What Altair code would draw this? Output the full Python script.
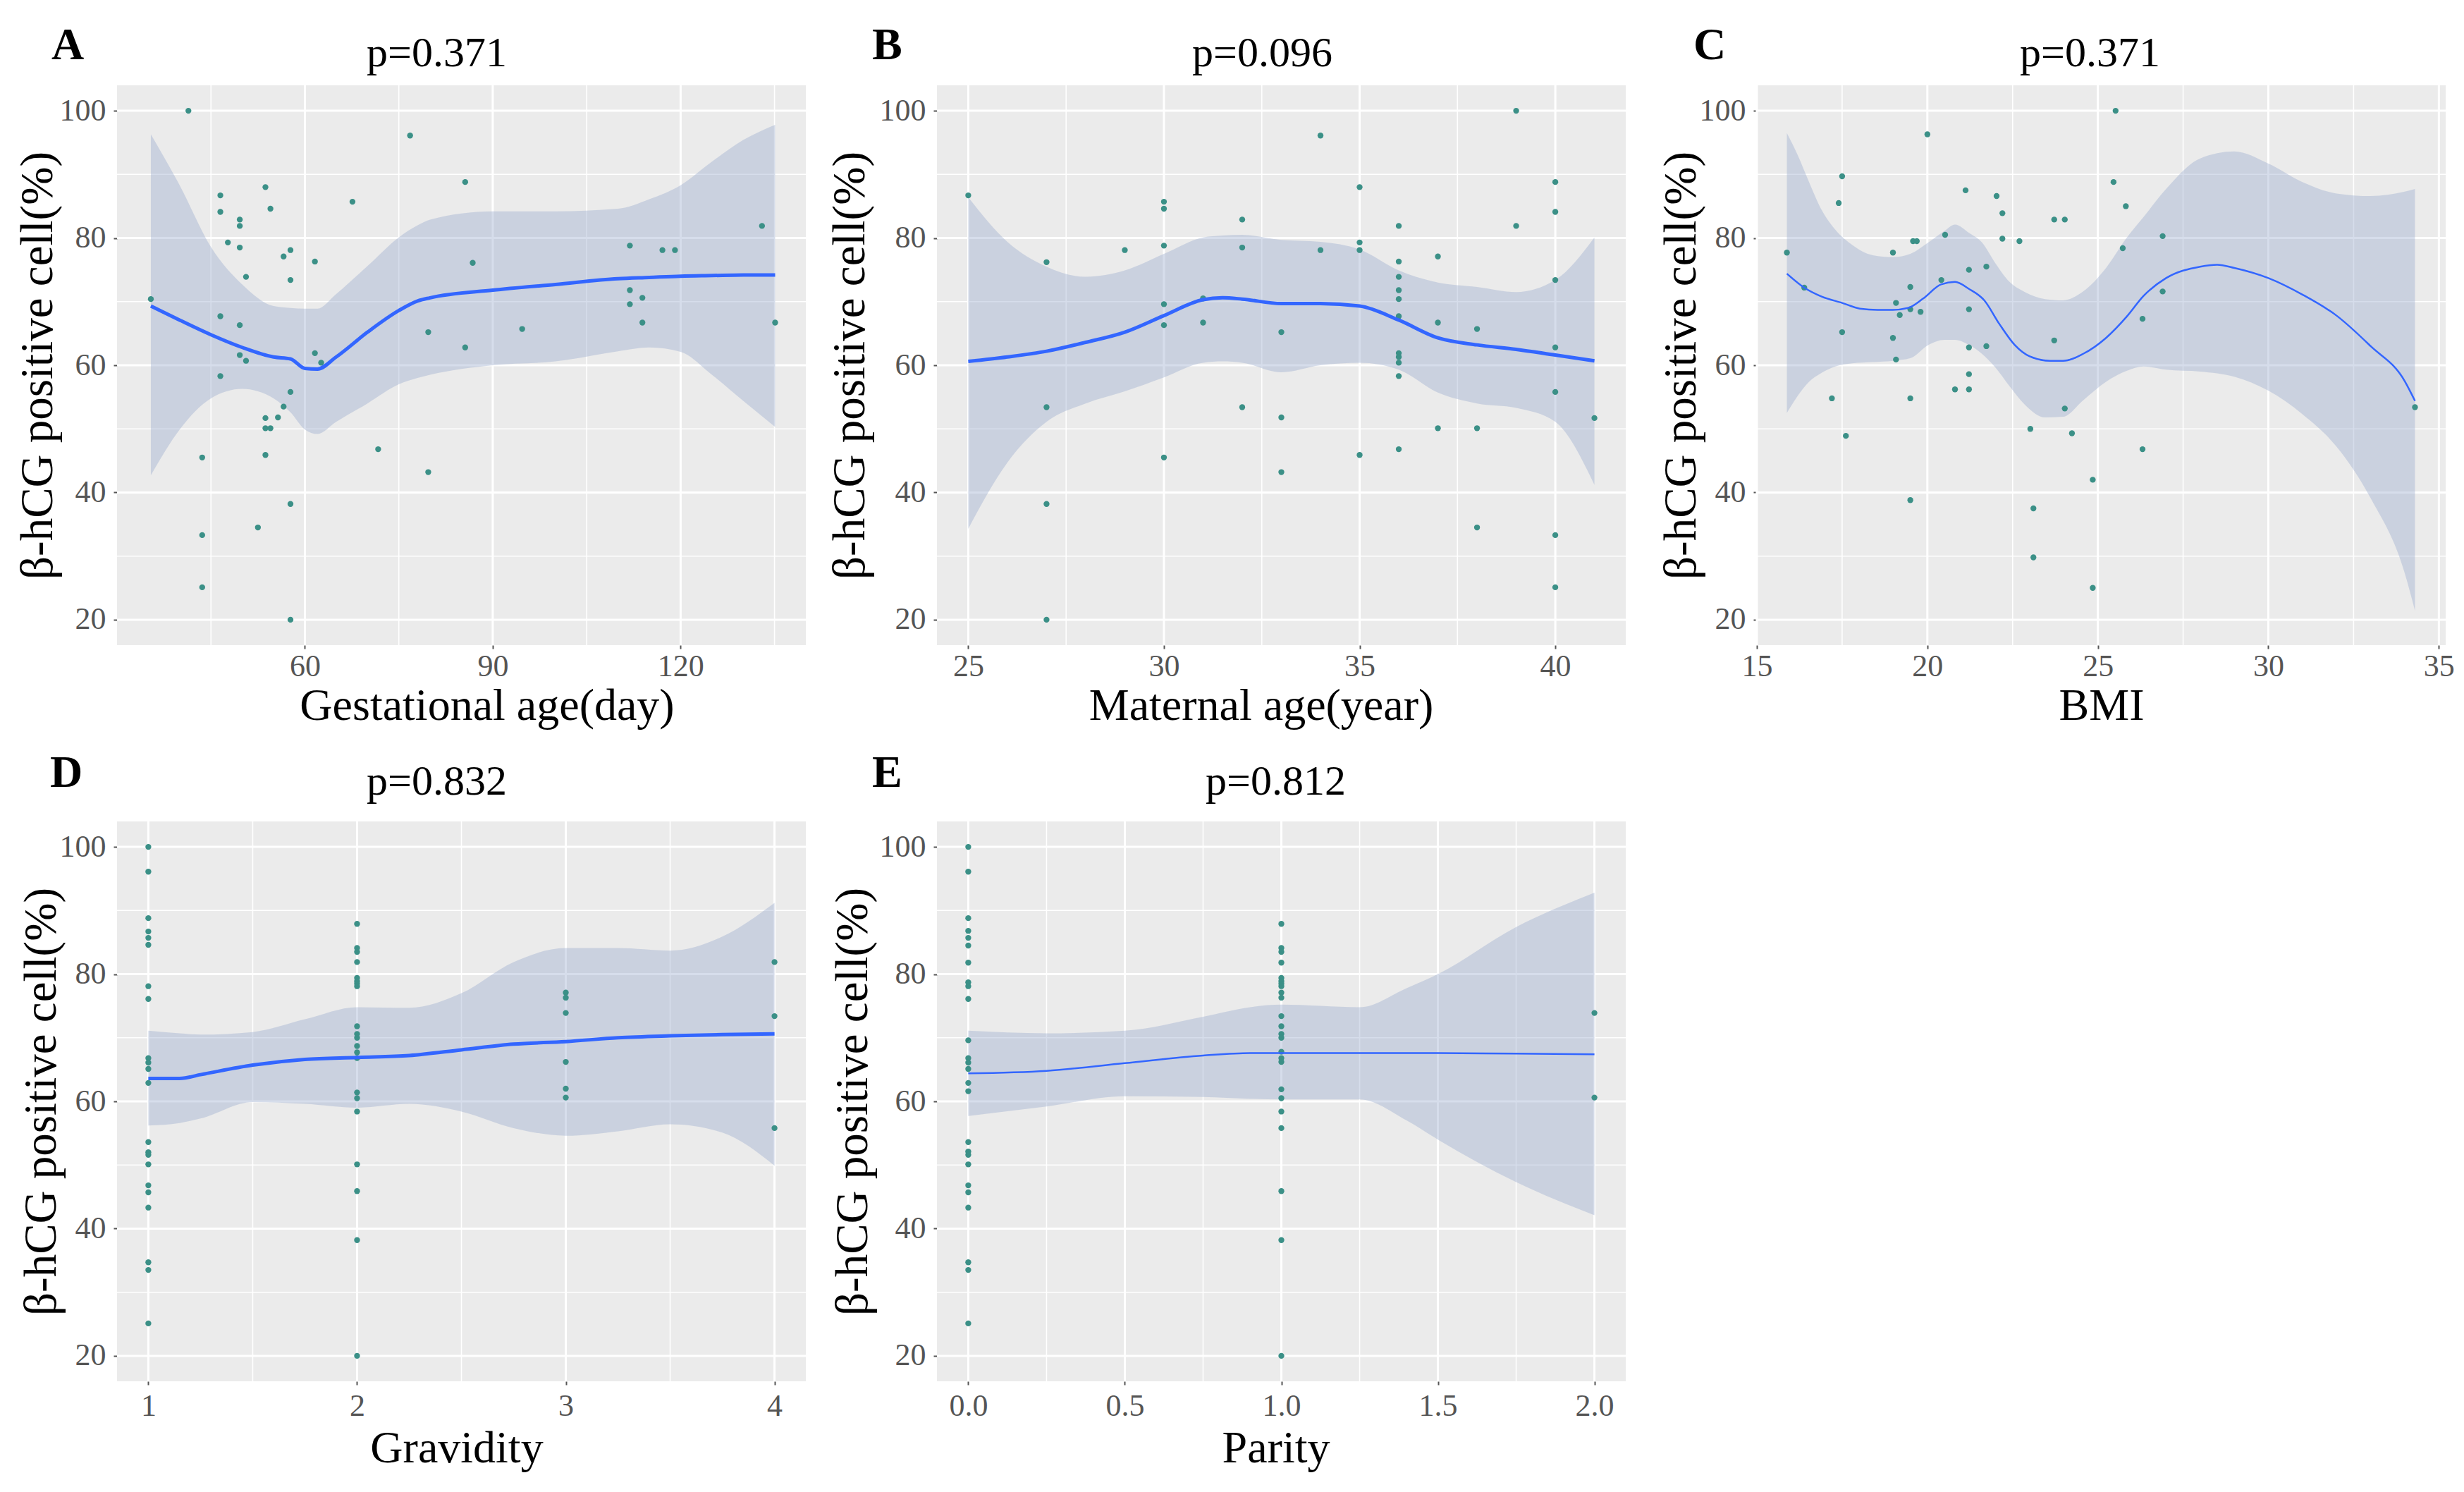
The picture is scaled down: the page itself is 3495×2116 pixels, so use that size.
import altair as alt
import pandas as pd

FONT = "Liberation Serif"
W = 977
H = 794

Y_DOMAIN = [16, 104]
Y_MAJOR = [20, 40, 60, 80, 100]
Y_MINOR = [30, 50, 70, 90]
Y_TITLE = "β-hCG positive cell(%)"

# ---------------- A: gestational age ----------------
ga_x = [35.4, 41.4, 43.6, 43.6, 43.6, 46.5, 46.5, 46.5, 46.5, 47.7, 49.6, 49.6, 49.6, 49.6, 49.6,
        50.6, 50.6, 52.5, 53.7, 53.7, 53.7, 54.5, 53.7, 54.5, 55.7, 56.6, 56.6, 57.7, 57.7, 57.7,
        57.7, 57.7, 61.6, 61.6, 62.6, 67.6, 71.7, 76.8, 79.7, 79.7, 85.6, 85.6, 86.8, 94.7, 111.9,
        111.9, 111.9, 113.9, 113.9, 117.1, 119.1, 133.0, 135.1]
ga_y = [70.4, 100, 45.5, 33.3, 25.1, 86.7, 84.1, 67.7, 58.3, 79.3, 82.9, 81.9, 78.5, 66.3, 61.6,
        60.7, 73.9, 34.5, 88.0, 51.7, 50.1, 50.1, 45.9, 84.6, 51.8, 53.5, 77.1, 78.1, 73.4, 55.8,
        38.2, 20.0, 76.3, 61.9, 60.4, 85.7, 46.8, 96.1, 65.2, 43.2, 88.8, 62.8, 76.1, 65.7, 78.8,
        71.8, 69.6, 70.6, 66.7, 78.1, 78.1, 81.9, 66.7]
ga_sx = [35.4, 40, 45, 50, 55, 57.7, 60, 62, 65, 70, 75, 78, 80, 90, 100, 110, 115, 120, 125, 130, 135.1]
ga_fit = [69.3, 67.1, 64.8, 62.8, 61.3, 61.0, 59.5, 59.4, 61.3, 65.2, 68.6, 70.1, 70.6, 71.8, 72.7,
          73.6, 73.8, 74.0, 74.1, 74.2, 74.2]
ga_hi = [96.3, 88.3, 78.6, 72.7, 69.3, 69.0, 68.9, 68.9, 71.2, 75.6, 80.1, 82.0, 82.9, 84.2, 84.2,
         84.6, 86.1, 88.3, 92.0, 95.4, 97.8]
ga_lo = [42.7, 49.9, 54.8, 56.3, 54.8, 52.6, 49.9, 49.2, 51.1, 54.0, 57.0, 58.0, 58.5, 60.0, 60.6,
         62.2, 62.8, 62.1, 58.5, 54.4, 50.3]

# ---------------- B: maternal age ----------------
ma_x = [25, 27, 27, 27, 27, 29, 30, 30, 30, 30, 30, 30, 31, 31, 32, 32, 32, 33, 33, 33, 34, 34,
        35, 35, 35, 35, 36, 36, 36, 36, 36, 36, 36, 36, 36, 36, 36, 37, 37, 37, 38, 38, 38, 39, 39,
        40, 40, 40, 40, 40, 40, 40, 41]
ma_y = [86.7, 76.2, 53.4, 38.2, 20.0, 78.1, 85.7, 84.6, 78.8, 69.6, 66.3, 45.5, 70.5, 66.7, 82.9,
        78.5, 53.4, 65.2, 51.8, 43.2, 96.1, 78.1, 88.0, 79.3, 78.1, 45.9, 81.9, 76.3, 73.9, 71.8,
        70.4, 67.7, 61.9, 61.3, 60.4, 58.3, 46.8, 77.1, 66.7, 50.1, 65.7, 50.1, 34.5, 100, 81.9,
        88.8, 84.1, 73.4, 62.8, 55.8, 33.3, 25.1, 51.7]
ma_sx = [25, 26, 27, 28, 29, 30, 31, 31.5, 32, 33, 34, 35, 36, 37, 38, 39, 40, 41]
ma_fit = [60.6, 61.3, 62.2, 63.6, 65.2, 67.8, 70.3, 70.6, 70.4, 69.7, 69.7, 69.3, 67.1, 64.3, 63.2,
          62.5, 61.6, 60.7]
ma_hi = [86.4, 79.4, 75.5, 73.9, 74.9, 77.5, 80.1, 80.4, 80.5, 79.7, 79.4, 78.2, 74.9, 73.0, 72.3,
         71.5, 73.4, 80.1]
ma_lo = [34.3, 44.7, 51.1, 54.0, 55.9, 58.1, 60.4, 60.6, 60.4, 58.9, 60.0, 60.4, 59.3, 55.7, 54.0,
         53.3, 51.1, 41.2]

# ---------------- C: BMI ----------------
bmi_x = [15.88, 16.39, 17.40, 17.50, 17.50, 18.99, 18.99, 19.08, 19.08, 19.19, 19.50, 19.50, 19.58,
         19.69, 19.80, 20.00, 20.41, 20.52, 21.12, 21.22, 21.22, 21.22, 21.22, 21.73, 21.73, 22.03,
         22.20, 22.20, 22.70, 23.72, 23.72, 24.03, 25.46, 25.52, 25.82, 25.73, 26.31, 17.20, 19.50,
         20.81, 21.22, 24.03, 23.02, 24.24, 26.31, 24.85, 19.50, 23.11, 23.11, 24.85, 17.61, 26.90,
         26.90, 34.30]
bmi_y = [77.7, 72.2, 85.5, 89.7, 65.2, 77.7, 64.3, 69.8, 60.9, 67.9, 72.3, 68.8, 79.5, 79.5, 68.4,
         96.3, 73.4, 80.5, 87.5, 75.0, 68.8, 62.8, 58.6, 75.5, 63.0, 86.6, 83.9, 79.9, 79.5, 82.9,
         63.9, 82.9, 88.8, 100, 85.0, 78.4, 67.3, 54.8, 54.8, 56.2, 56.2, 53.2, 50.0, 49.3, 46.8,
         42.0, 38.8, 37.5, 29.8, 25.0, 48.9, 80.3, 71.6, 53.4]
bmi_sx = [15.88, 16.39, 16.9, 17.5, 18.02, 18.54, 18.99, 19.43, 19.88, 20.4, 20.81, 21.22, 21.67,
          22.11, 22.56, 23.0, 23.6, 23.98, 24.57, 25.24, 25.84, 26.34, 27, 28, 28.5, 29, 30, 31, 32,
          33, 34, 34.3]
bmi_fit = [74.4, 72.2, 70.8, 69.8, 68.9, 68.7, 68.7, 69.0, 70.5, 72.7, 73.1, 72.0, 70.2, 66.5, 63.2,
           61.4, 60.7, 60.7, 61.8, 64.3, 67.6, 70.9, 73.7, 75.5, 75.8, 75.3, 73.7, 71.1, 67.8, 63.0,
           57.5, 54.4]
bmi_bx = [15.88, 16.2, 16.53, 16.9, 17.3, 17.8, 18.4, 19.0, 19.5, 20.03, 20.5, 20.81, 21.22, 21.6,
          22.0, 22.41, 22.86, 23.45, 23.98, 24.57, 25.24, 25.84, 26.34, 27, 28, 29, 30, 31, 32, 33,
          34, 34.3]
bmi_hi = [96.5, 93.0, 88.8, 84.4, 81.3, 78.9, 77.3, 77.0, 77.5, 79.3, 81.1, 82.1, 80.8, 79.3, 76.0,
          73.1, 71.5, 70.4, 70.2, 71.6, 75.3, 80.0, 83.3, 87.7, 92.5, 93.6, 91.7, 88.8, 87.0, 86.6,
          87.3, 87.7]
bmi_lo = [52.5, 55.2, 57.4, 58.8, 59.8, 60.3, 60.5, 60.7, 61.1, 63.2, 64.0, 64.0, 63.2, 61.8, 59.6,
          56.7, 53.8, 51.8, 51.9, 54.5, 57.4, 59.1, 59.8, 59.3, 59.0, 58.2, 56.0, 52.3, 47.2, 39.1,
          27.3, 21.4]

# ---------------- D: gravidity ----------------
gr_x = [1] * 22 + [2] * 21 + [3] * 6 + [4] * 3
gr_y = [100, 96.1, 88.8, 86.7, 85.7, 84.6, 78.1, 76.1, 66.8, 66.1, 65.1, 62.9, 53.6, 52.0, 51.6,
        50.1, 46.8, 45.7, 43.3, 34.7, 33.5, 25.1,
        87.9, 84.1, 83.5, 81.9, 79.4, 78.9, 78.5, 78.1, 71.8, 70.6, 70.0, 68.7, 67.7, 66.8, 61.4,
        60.5, 58.4, 50.1, 45.9, 38.2, 20.0,
        77.1, 76.3, 73.9, 66.2, 62.0, 60.6,
        81.9, 73.4, 55.8]
gr_sx = [1, 1.15, 1.25, 1.5, 1.75, 2, 2.25, 2.5, 2.75, 3, 3.25, 3.5, 3.75, 4]
gr_fit = [63.6, 63.6, 64.2, 65.7, 66.6, 66.9, 67.2, 68.1, 69.0, 69.4, 70.0, 70.3, 70.5, 70.6]
gr_hi = [71.1, 70.7, 70.5, 70.9, 72.9, 74.8, 74.7, 77.0, 81.9, 84.1, 84.1, 83.7, 85.9, 91.2]
gr_lo = [56.2, 56.6, 57.3, 59.9, 59.6, 59.0, 59.6, 58.4, 55.8, 54.6, 55.3, 56.4, 55.1, 49.9]

# ---------------- E: parity ----------------
pa_x = [0] * 26 + [1] * 24 + [2] * 2
pa_y = [100, 96.1, 88.8, 86.8, 85.7, 84.5, 81.8, 78.7, 78.1, 76.1, 69.6, 66.8, 66.1, 65.1, 62.9,
        61.6, 53.6, 52.1, 51.6, 50.1, 46.8, 45.7, 43.3, 34.7, 33.5, 25.1,
        87.9, 84.1, 83.5, 81.8, 79.4, 78.9, 78.5, 78.1, 77.1, 76.3, 73.4, 71.8, 70.6, 70.0, 67.8,
        66.8, 66.2, 61.9, 60.5, 58.4, 55.8, 45.9, 38.2, 20.0,
        73.9, 60.6]
pa_sx = [0, 0.25, 0.5, 0.75, 0.9, 1.0, 1.25, 1.4, 1.5, 1.75, 2.0]
pa_fit = [64.4, 64.8, 66.0, 67.2, 67.6, 67.6, 67.6, 67.6, 67.6, 67.5, 67.4]
pa_hi = [71.1, 70.7, 71.1, 73.3, 74.8, 75.2, 74.8, 77.8, 80.0, 87.4, 92.8]
pa_lo = [57.7, 59.2, 60.8, 60.7, 60.4, 60.3, 60.3, 57.0, 54.0, 47.3, 42.1]

POINT_COLOR = "#3b9087"
LINE_COLOR = "#3366FF"
BAND_COLOR = "#9DAFCF"


def panel(letter, ptitle, xtitle, px, py, sx, sfit, bx, blo, bhi, xdom, xmajor, xminor, xfmt,
          lw, g):
    xs = alt.Scale(domain=xdom, nice=False, zero=False)
    ys = alt.Scale(domain=Y_DOMAIN, nice=False, zero=False)

    x_axis = alt.Axis(values=xmajor, format=xfmt, title=xtitle, titleX=W / 2 + g["xt_dx"],
                      titleY=g["xt_y"], titleBaseline="alphabetic", titleAlign="center",
                      titleFont=FONT, titleFontSize=64, titleFontWeight="normal",
                      titleColor="black", labelFont=FONT, labelFontSize=44, labelColor="#555555",
                      labelPadding=g["xl_pad"], labelFlush=False, labelOverlap=False, tickSize=5,
                      tickWidth=2, tickColor="#555555", domain=False, grid=False)
    y_axis = alt.Axis(values=Y_MAJOR, title=Y_TITLE, titleAngle=270, titleX=g["yt_x"],
                      titleY=H / 2, titleBaseline="middle", titleAlign="center",
                      titleFont=FONT, titleFontSize=65, titleFontWeight="normal",
                      titleColor="black", labelFont=FONT, labelFontSize=44, labelColor="#555555",
                      labelPadding=11, labelFlush=False, labelOverlap=False, tickSize=5,
                      tickWidth=2, tickColor="#555555", domain=False, grid=False)

    vmin = alt.Chart(pd.DataFrame({"v": xminor})).mark_rule(color="white", strokeWidth=1.6).encode(
        x=alt.X("v:Q", scale=xs, axis=x_axis))
    vmaj = alt.Chart(pd.DataFrame({"v": xmajor})).mark_rule(color="white", strokeWidth=3).encode(
        x=alt.X("v:Q", scale=xs, axis=x_axis))
    hmin = alt.Chart(pd.DataFrame({"v": Y_MINOR})).mark_rule(color="white", strokeWidth=1.6).encode(
        y=alt.Y("v:Q", scale=ys, axis=y_axis))
    hmaj = alt.Chart(pd.DataFrame({"v": Y_MAJOR})).mark_rule(color="white", strokeWidth=3).encode(
        y=alt.Y("v:Q", scale=ys, axis=y_axis))

    band = alt.Chart(pd.DataFrame({"x": bx, "lo": blo, "hi": bhi})).mark_area(
        color=BAND_COLOR, opacity=0.42, interpolate="monotone").encode(
        x=alt.X("x:Q", scale=xs, axis=x_axis),
        y=alt.Y("lo:Q", scale=ys, axis=y_axis),
        y2="hi:Q")

    pts = alt.Chart(pd.DataFrame({"x": px, "y": py})).mark_circle(
        size=70, color=POINT_COLOR, opacity=1).encode(
        x=alt.X("x:Q", scale=xs, axis=x_axis),
        y=alt.Y("y:Q", scale=ys, axis=y_axis))

    line = alt.Chart(pd.DataFrame({"x": sx, "fit": sfit})).mark_line(
        color=LINE_COLOR, strokeWidth=lw, interpolate="monotone").encode(
        x=alt.X("x:Q", scale=xs, axis=x_axis),
        y=alt.Y("fit:Q", scale=ys, axis=y_axis))

    let = alt.Chart(pd.DataFrame({"t": [letter]})).mark_text(
        font=FONT, fontSize=64, fontWeight="bold", align="left", baseline="alphabetic",
        color="black").encode(x=alt.value(g["l_dx"]), y=alt.value(g["l_dy"]), text="t:N")

    ttl = alt.Chart(pd.DataFrame({"t": [ptitle]})).mark_text(
        font=FONT, fontSize=60, align="center", baseline="alphabetic",
        color="black").encode(x=alt.value(W / 2 + g["t_dx"]), y=alt.value(g["t_dy"]), text="t:N")

    return alt.layer(vmin, vmaj, hmin, hmaj, band, pts, line, let, ttl).properties(
        width=W, height=H)


pA = panel("A", "p=0.371", "Gestational age(day)", ga_x, ga_y, ga_sx, ga_fit, ga_sx, ga_lo, ga_hi,
           [30, 140], [60, 90, 120], [45, 75, 105, 135], "d", 5,
           dict(xt_dx=36, xt_y=105, xl_pad=3, yt_x=-113, l_dx=-93, l_dy=-37, t_dx=-35, t_dy=-27))
pB = panel("B", "p=0.096", "Maternal age(year)", ma_x, ma_y, ma_sx, ma_fit, ma_sx, ma_lo, ma_hi,
           [24.2, 41.8], [25, 30, 35, 40], [27.5, 32.5, 37.5], "d", 5,
           dict(xt_dx=-29, xt_y=105, xl_pad=3, yt_x=-124, l_dx=-92, l_dy=-37, t_dx=-27, t_dy=-27))
pC = panel("C", "p=0.371", "BMI", bmi_x, bmi_y, bmi_sx, bmi_fit, bmi_bx, bmi_lo, bmi_hi,
           [15.0, 35.2], [15, 20, 25, 30, 35], [17.5, 22.5, 27.5, 32.5], "d", 2.5,
           dict(xt_dx=0, xt_y=105, xl_pad=3, yt_x=-108, l_dx=-90, l_dy=-37, t_dx=-16, t_dy=-27))
pD = panel("D", "p=0.832", "Gravidity", gr_x, gr_y, gr_sx, gr_fit, gr_sx, gr_lo, gr_hi,
           [0.85, 4.15], [1, 2, 3, 4], [1.5, 2.5, 3.5], "d", 5,
           dict(xt_dx=-7, xt_y=114, xl_pad=8, yt_x=-108, l_dx=-95, l_dy=-49, t_dx=-35, t_dy=-38))
pE = panel("E", "p=0.812", "Parity", pa_x, pa_y, pa_sx, pa_fit, pa_sx, pa_lo, pa_hi,
           [-0.1, 2.1], [0, 0.5, 1, 1.5, 2], [0.25, 0.75, 1.25, 1.75], ".1f", 2.5,
           dict(xt_dx=-8, xt_y=114, xl_pad=8, yt_x=-120, l_dx=-92, l_dy=-49, t_dx=-8, t_dy=-38))

chart = alt.concat(pA, pB, pC, pD, pE, columns=3, spacing={"row": 250, "column": 186},
                   bounds="flush").properties(
    padding={"left": 12, "top": 25, "right": 5, "bottom": 5},
    background="white",
).configure_view(fill="#EBEBEB", strokeWidth=0)

chart.save("out.html", embed_options={"renderer": "svg", "actions": False})
